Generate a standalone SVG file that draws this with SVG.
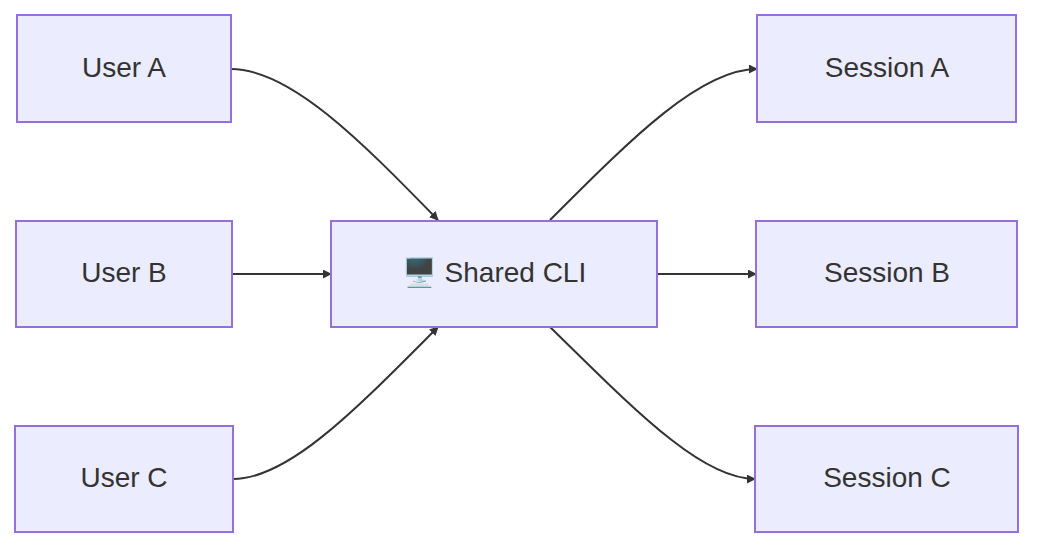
<svg xmlns="http://www.w3.org/2000/svg" width="1050" height="556" viewBox="0 0 1050 556">
<style>
.n rect{fill:#ECECFF;stroke:#9370DB;stroke-width:2}
.n text{font-family:"Liberation Sans",Arial,sans-serif;font-size:28px;fill:#333;text-anchor:middle;dominant-baseline:central}
.e path{fill:none;stroke:#333;stroke-width:2;marker-end:url(#a)}
</style>
<defs><marker id="a" viewBox="0 0 10 10" refX="9" refY="5" markerWidth="9" markerHeight="9" markerUnits="userSpaceOnUse" orient="auto"><path d="M0,0L10,5L0,10z" fill="#333"/></marker></defs>
<rect width="1050" height="556" fill="#fff"/>
<g class="e">
<path d="M231,69 C290,69 360,140 438,220" transform="translate(0,0)"/>
<path d="M232,274 L331,274"/>
<path d="M233,479 C290,479 360,405 438,327"/>
<path d="M550,220 C630,140 700,69 757,69"/>
<path d="M657,274 L756,274"/>
<path d="M550,327 C630,405 700,479 755,479"/>
</g>
<g id="userA" class="n"><rect x="17" y="15" width="214" height="107"/><text x="124" y="67">User A</text></g>
<g id="userB" class="n"><rect x="16" y="221" width="216" height="106"/><text x="124" y="272">User B</text></g>
<g id="userC" class="n"><rect x="15" y="426" width="218" height="106"/><text x="124" y="477">User C</text></g>
<g id="cli" class="n"><rect x="331" y="221" width="326" height="106"/><text x="494" y="272">🖥️ Shared CLI</text></g>
<g id="sessA" class="n"><rect x="757" y="15" width="259" height="107"/><text x="887" y="67">Session A</text></g>
<g id="sessB" class="n"><rect x="756" y="221" width="261" height="106"/><text x="887" y="272">Session B</text></g>
<g id="sessC" class="n"><rect x="755" y="426" width="263" height="106"/><text x="887" y="477">Session C</text></g>
</svg>
